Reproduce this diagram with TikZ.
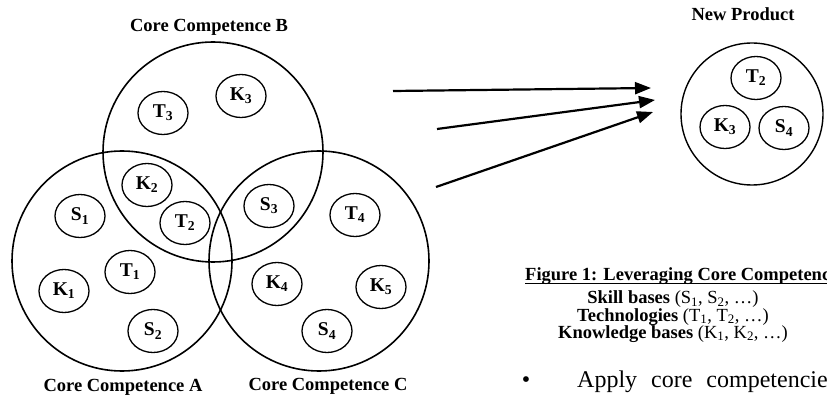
\documentclass[tikz,border=0pt]{standalone}
\usepackage{fontspec}
\setmainfont{Liberation Serif}
\usetikzlibrary{shapes.geometric,arrows.meta}
\tikzstyle{core} = [circle, draw=black, line width=1.6pt, minimum size=220pt, inner sep=0pt]
\tikzstyle{base} = [ellipse, draw=black, line width=1.3pt, minimum width=50pt, minimum height=43pt, inner sep=0pt, font=\fontsize{19.5}{20}\selectfont\bfseries]
\tikzstyle{title} = [anchor=base, font=\fontsize{18.5}{20}\selectfont\bfseries]
\tikzstyle{legend} = [anchor=base, inner sep=0pt, font=\fontsize{18.5}{20}\selectfont]
\tikzstyle{arrow} = [line width=2.2pt,-{Triangle[length=16pt,width=12pt]}]

\begin{document}
\begin{tikzpicture}[x=1pt,y=-1pt]
\useasboundingbox (0,0) rectangle (827,395);
\clip (0,0) rectangle (827,395);
% the three core competences
\node (ccB) [core] at (213,152) {};
\node (ccA) [core] at (122,261) {};
\node (ccC) [core] at (319,261) {};
\node (labB) [title] at (209,32) {Core Competence B};
\node (labA) [title] at (123,391) {Core Competence A};
\node (labC) [title] at (328,390) {Core Competence C};
% skills, technologies, knowledge
\node (t3) [base] at (163,113) {T\textsubscript{3}};
\node (k3) [base] at (241,96) {K\textsubscript{3}};
\node (k2) [base] at (147,185) {K\textsubscript{2}};
\node (t2) [base] at (185,223) {T\textsubscript{2}};
\node (s1) [base] at (80,216) {S\textsubscript{1}};
\node (t1) [base] at (130,272) {T\textsubscript{1}};
\node (k1) [base] at (64,291) {K\textsubscript{1}};
\node (s2) [base] at (153,331) {S\textsubscript{2}};
\node (s3) [base] at (269,206) {S\textsubscript{3}};
\node (t4) [base] at (355,215) {T\textsubscript{4}};
\node (k4) [base] at (277,284) {K\textsubscript{4}};
\node (k5) [base] at (381,287) {K\textsubscript{5}};
\node (s4) [base] at (327,331) {S\textsubscript{4}};
% new product
\node (prod) [circle, draw=black, line width=1.4pt, minimum size=142pt, inner sep=0pt] at (752,114) {};
\node (labP) [title] at (743,21) {New Product};
\node (pt2) [base] at (756,78) {T\textsubscript{2}};
\node (pk3) [base] at (725,127) {K\textsubscript{3}};
\node (ps4) [base] at (784,128) {S\textsubscript{4}};
% arrows
\coordinate (a1) at (393,91);
\coordinate (a2) at (437,129);
\coordinate (a3) at (436,187);
\coordinate (h1) at (651,88);
\coordinate (h2) at (655,100);
\coordinate (h3) at (653,112);
\draw [arrow] (a1) -- (h1);
\draw [arrow] (a2) -- (h2);
\draw [arrow] (a3) -- (h3);
% legend
\node (fig) [title, anchor=base west, inner sep=0pt] at (525,281) {Figure 1: Leveraging Core Competencies};
\draw [line width=1pt] ([yshift=-2.5pt]fig.base west) -- ([yshift=-2.5pt]fig.base east);
\node (leg1) [legend] at (673,304) {\textbf{Skill bases} (S\textsubscript{1}, S\textsubscript{2}, …)};
\node (leg2) [legend] at (673,321) {\textbf{Technologies} (T\textsubscript{1}, T\textsubscript{2}, …)};
\node (leg3) [legend] at (673,338) {\textbf{Knowledge bases} (K\textsubscript{1}, K\textsubscript{2}, …)};
% text below
\node (dot) [anchor=base, inner sep=0pt, font=\fontsize{24}{26}\selectfont] at (526,387) {•};
\node (apply) [anchor=base west, inner sep=0pt, font=\fontsize{24}{26}\selectfont] at (577,387) {Apply\hspace{14pt}core\hspace{14pt}competencies};
\end{tikzpicture}
\end{document}
